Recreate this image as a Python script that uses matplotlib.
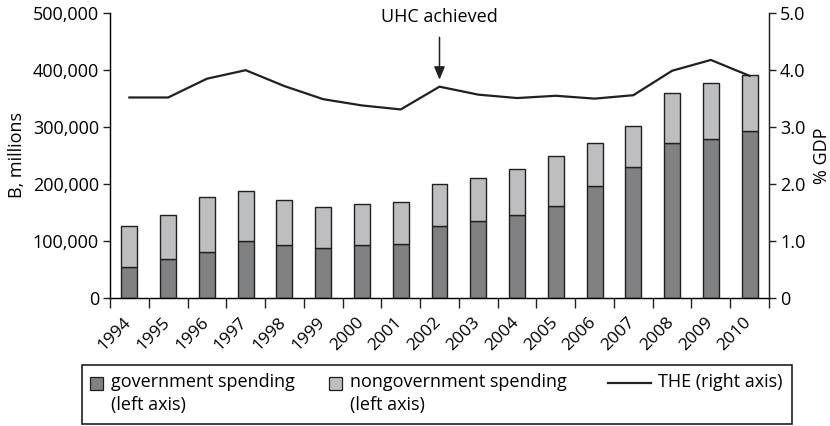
import matplotlib
matplotlib.use("Agg")
import matplotlib.pyplot as plt
from matplotlib.patches import Rectangle
from matplotlib.lines import Line2D
import matplotlib.transforms as mtransforms
from matplotlib.ticker import FuncFormatter, MultipleLocator

plt.rcParams['font.family'] = ['Open Sans', 'DejaVu Sans']
plt.rcParams['font.size'] = 13

years = ["1994", "1995", "1996", "1997", "1998", "1999", "2000", "2001", "2002",
         "2003", "2004", "2005", "2006", "2007", "2008", "2009", "2010"]
gov = [54500, 67500, 81000, 100000, 92000, 88000, 92700, 94000, 126000,
       134000, 146000, 161000, 196500, 230000, 272600, 279000, 293000]
total = [126000, 146000, 176600, 187700, 171000, 160000, 165000, 169000, 200500,
         211000, 226000, 250000, 272600, 302600, 359500, 377000, 392000]
nongov = [t - g for t, g in zip(total, gov)]
the_gdp = [3.52, 3.52, 3.85, 4.00, 3.72, 3.49, 3.38, 3.31, 3.71,
           3.57, 3.51, 3.55, 3.50, 3.56, 3.99, 4.18, 3.90]
uhc_year = "2002"

W, H = 830, 426
dark = "#231f20"
gov_color = "#808182"
nongov_color = "#bdbec0"

fig = plt.figure(figsize=(W / 100, H / 100), dpi=100)
ax = fig.add_axes([110 / W, 1 - 297.7 / H, 659 / W, 284.4 / H])

x = list(range(len(years)))
ax.bar(x, gov, width=0.41, color=gov_color, edgecolor=dark, linewidth=1.0, zorder=2)
ax.bar(x, nongov, bottom=gov, width=0.41, color=nongov_color, edgecolor=dark,
       linewidth=1.0, zorder=2)

ax.set_xlim(-0.5, len(years) - 0.5)
ax.set_ylim(0, 500000)
ax.yaxis.set_major_locator(MultipleLocator(100000))
ax.yaxis.set_major_formatter(FuncFormatter(lambda v, p: f"{int(v):,}"))
ax.set_ylabel("B, millions", labelpad=5)

ax.set_xticks(x)
ax.set_xticklabels(years, rotation=45, ha="right", fontsize=12.5)
ax.set_xticks([i - 0.5 for i in range(len(years) + 1)], minor=True)
ax.tick_params(axis="x", which="major", length=0, pad=12)
ax.tick_params(axis="x", which="minor", length=7, width=1.0, color=dark)
ax.tick_params(axis="y", length=5, width=1.0, color=dark, pad=3)
offset = mtransforms.ScaledTranslation(5 / 100, 0, fig.dpi_scale_trans)
for lab in ax.get_xticklabels():
    lab.set_transform(lab.get_transform() + offset)

for side in ["left", "bottom", "right"]:
    ax.spines[side].set_color(dark)
    ax.spines[side].set_linewidth(1.0)
ax.spines["top"].set_visible(False)

ax2 = ax.twinx()
ax2.plot(x, the_gdp, color=dark, linewidth=1.6, zorder=3)
ax2.set_ylim(0, 5.0)
ax2.yaxis.set_major_locator(MultipleLocator(1.0))
ax2.yaxis.set_major_formatter(FuncFormatter(lambda v, p: "0" if v == 0 else f"{v:.1f}"))
ax2.tick_params(axis="y", length=5, width=1.0, color=dark, pad=3)
ax2.set_ylabel("% GDP", labelpad=5)
ax2.spines["top"].set_visible(False)
ax2.spines["right"].set_color(dark)

i_uhc = years.index(uhc_year)
ax2.annotate("UHC achieved", xy=(i_uhc, the_gdp[i_uhc]), xytext=(0, 50),
             textcoords="offset points", ha="center", va="center",
             annotation_clip=False,
             arrowprops=dict(arrowstyle="-|>,head_length=0.6,head_width=0.25",
                             color=dark, lw=1.1, shrinkA=6, shrinkB=5))


# legend drawn in figure pixels
def fx(px):
    return px / W


def fy(py):
    return 1 - py / H


fig.add_artist(Rectangle((fx(82), fy(424)), fx(792) - fx(82), fy(364.5) - fy(424),
                         transform=fig.transFigure, facecolor="none",
                         edgecolor=dark, linewidth=1.2))
row1, row2 = 382, 405
for mx, tx, color, label in [(90, 111, gov_color, "government spending"),
                             (329, 350, nongov_color, "nongovernment spending")]:
    fig.add_artist(Rectangle((fx(mx), fy(389.5)), fx(12.5), fy(377) - fy(389.5),
                             transform=fig.transFigure, facecolor=color,
                             edgecolor=dark, linewidth=0.9))
    fig.text(fx(tx), fy(row1), label, va="center", ha="left")
    fig.text(fx(tx), fy(row2), "(left axis)", va="center", ha="left")
fig.add_artist(Line2D([fx(608), fx(651)], [fy(383), fy(383)], color=dark,
                      linewidth=1.6, transform=fig.transFigure))
fig.text(fx(658), fy(row1), "THE (right axis)", va="center", ha="left")

fig.savefig("out.png", dpi=100)
